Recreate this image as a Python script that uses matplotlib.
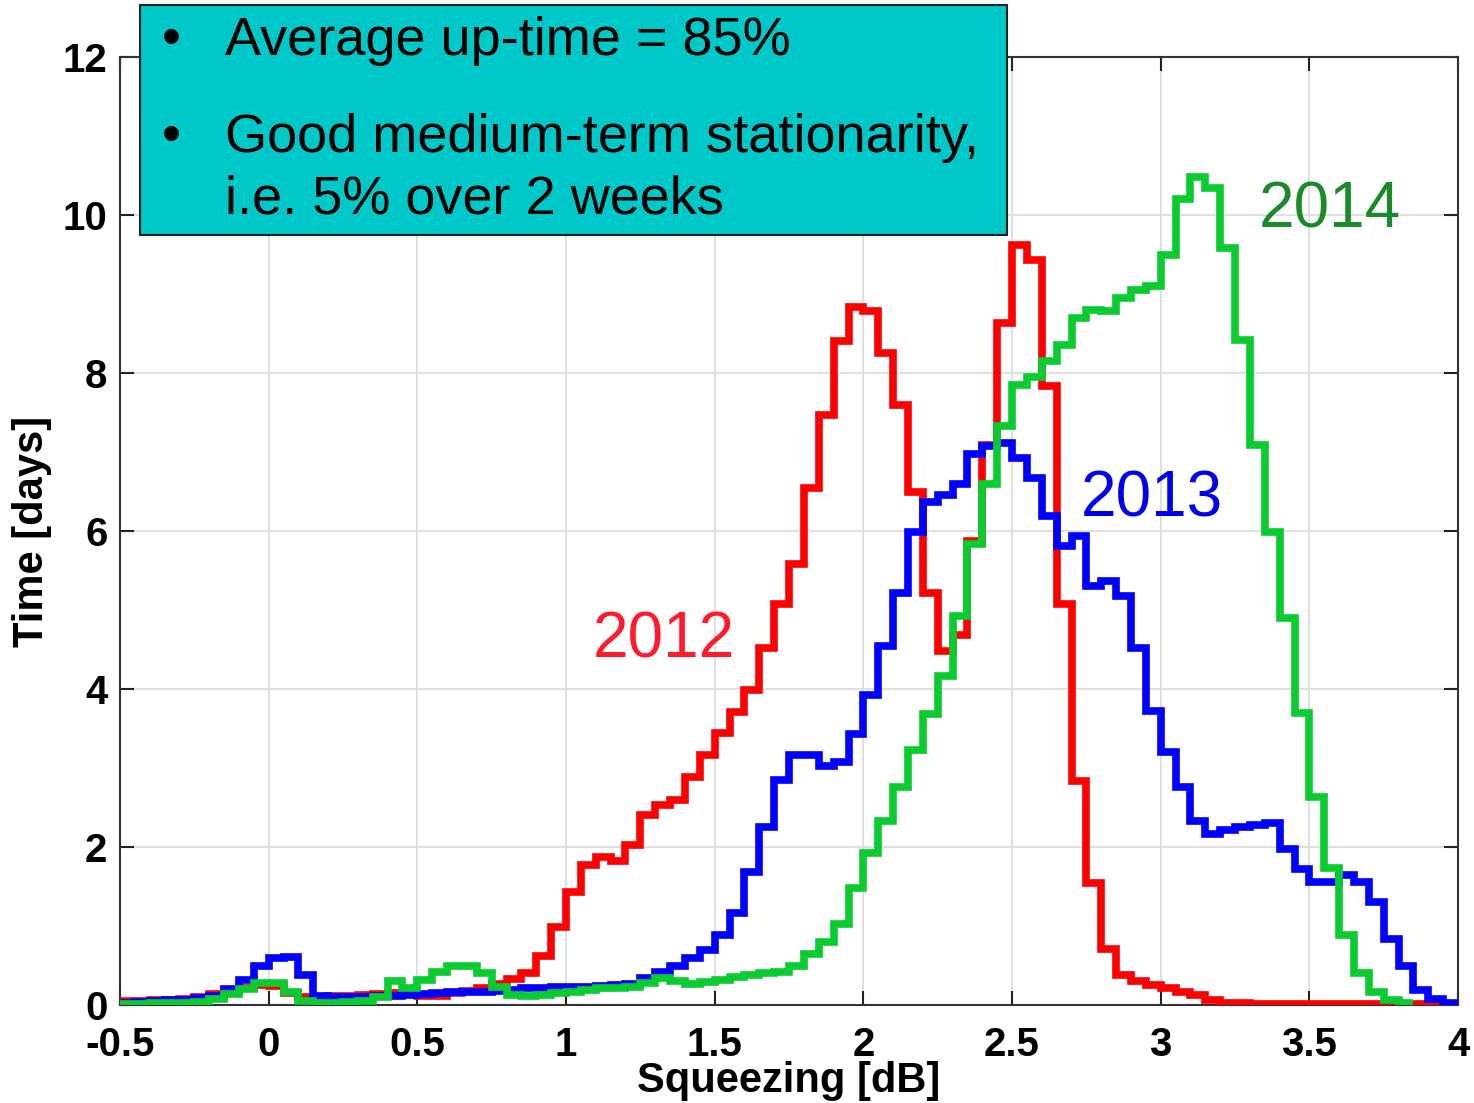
import numpy as np
import matplotlib
matplotlib.use("Agg")
from matplotlib import pyplot as plt
from matplotlib.patches import Rectangle

plt.rcParams['font.family'] = ['Liberation Sans', 'DejaVu Sans']

# Histogram data: 0.05 dB bins starting at -0.5 dB, time in days
bin_start = -0.5
bin_width = 0.05

days_2012 = [0.05, 0.05, 0.06, 0.07, 0.08, 0.10, 0.14, 0.18, 0.22, 0.25,
             0.24, 0.15, 0.10, 0.10, 0.11, 0.12, 0.13, 0.14, 0.15, 0.15,
             0.12, 0.12, 0.15, 0.18, 0.22, 0.27, 0.33, 0.40, 0.62, 0.99,
             1.43, 1.77, 1.87, 1.82, 2.02, 2.40, 2.53, 2.60, 2.89, 3.16,
             3.44, 3.71, 3.99, 4.52, 5.08, 5.58, 6.54, 7.47, 8.41, 8.84,
             8.78, 8.26, 7.59, 6.49, 5.21, 4.48, 4.68, 5.88, 7.09, 8.63,
             9.62, 9.43, 7.84, 5.08, 2.84, 1.54, 0.71, 0.38, 0.30, 0.25,
             0.21, 0.17, 0.13, 0.07, 0.03, 0.02, 0.01, 0.01, 0.01, 0.01,
             0.01, 0.01, 0.01, 0.01, 0.01, 0.01, 0.01, 0.01, 0.01, 0.01]

days_2013 = [0.03, 0.04, 0.05, 0.06, 0.07, 0.09, 0.12, 0.20, 0.32, 0.50,
             0.60, 0.61, 0.38, 0.12, 0.10, 0.10, 0.10, 0.11, 0.12, 0.13,
             0.14, 0.15, 0.16, 0.17, 0.17, 0.18, 0.19, 0.21, 0.22, 0.23,
             0.23, 0.23, 0.24, 0.25, 0.27, 0.34, 0.42, 0.50, 0.60, 0.70,
             0.89, 1.16, 1.69, 2.26, 2.85, 3.17, 3.17, 3.02, 3.08, 3.43,
             3.93, 4.54, 5.21, 5.99, 6.37, 6.46, 6.60, 6.97, 7.08, 7.11,
             6.92, 6.67, 6.19, 5.81, 5.94, 5.30, 5.37, 5.18, 4.52, 3.72,
             3.20, 2.76, 2.33, 2.17, 2.22, 2.25, 2.28, 2.30, 1.98, 1.72,
             1.56, 1.56, 1.65, 1.56, 1.31, 0.84, 0.49, 0.19, 0.08, 0.02]

days_2014 = [0.01, 0.01, 0.02, 0.02, 0.03, 0.04, 0.08, 0.14, 0.20, 0.28,
             0.28, 0.17, 0.05, 0.03, 0.03, 0.04, 0.05, 0.10, 0.30, 0.22,
             0.32, 0.42, 0.50, 0.50, 0.40, 0.23, 0.13, 0.12, 0.13, 0.15,
             0.17, 0.19, 0.21, 0.22, 0.23, 0.28, 0.34, 0.30, 0.27, 0.29,
             0.32, 0.36, 0.38, 0.40, 0.42, 0.50, 0.65, 0.80, 1.02, 1.48,
             1.92, 2.33, 2.76, 3.23, 3.69, 4.16, 4.92, 5.84, 6.60, 7.33,
             7.85, 7.95, 8.15, 8.35, 8.70, 8.80, 8.78, 8.95, 9.05, 9.10,
             9.50, 10.20, 10.48, 10.34, 9.59, 8.42, 7.09, 5.99, 4.90, 3.70,
             2.64, 1.73, 0.89, 0.40, 0.17, 0.06, 0.03]

years = ['2012', '2013', '2014']
line_colors = ['#ff0000', '#0000ff', '#0acc30']
label_colors = ['#ff1a2e', '#0000ee', '#1a8a2a']
label_pos = [(1.33, 4.62), (2.97, 6.40), (3.57, 10.06)]

x_ticks = [-0.5, 0, 0.5, 1, 1.5, 2, 2.5, 3, 3.5, 4]
x_tick_labels = ['-0.5', '0', '0.5', '1', '1.5', '2', '2.5', '3', '3.5', '4']
y_ticks = [0, 2, 4, 6, 8, 10, 12]

notes = ['Average up-time = 85%', 'Good medium-term stationarity,', 'i.e. 5% over 2 weeks']

fig = plt.figure(figsize=(14.74, 11.03), dpi=100)
ax = fig.add_axes([0.0814, 0.0888, 0.9078, 0.8594])

for vals, c in zip([days_2012, days_2013, days_2014], line_colors):
    edges = bin_start + bin_width * np.arange(len(vals) + 1)
    ax.stairs(vals, edges, color=c, linewidth=5.5, baseline=None, zorder=3)

for yr, c, (lx, ly) in zip(years, label_colors, label_pos):
    ax.text(lx, ly, yr, color=c, fontsize=46, ha='center', va='center', zorder=4)

ax.set_xlim(-0.5, 4)
ax.set_ylim(0, 12)
ax.set_xticks(x_ticks)
ax.set_xticklabels(x_tick_labels)
ax.set_yticks(y_ticks)
ax.grid(True, color='#dddddd', linewidth=1.3)
ax.set_axisbelow(True)
ax.tick_params(direction='in', length=10, width=1.5, top=True, right=True,
               labelsize=29, colors='#222222')
ax.tick_params(axis='x', pad=15)
ax.tick_params(axis='y', pad=9)
for lab in ax.get_xticklabels() + ax.get_yticklabels():
    lab.set_fontweight('bold')
    lab.set_color('black')
for sp in ax.spines.values():
    sp.set_linewidth(1.5)
    sp.set_color('#333333')

ax.set_xlabel('Squeezing [dB]', fontsize=30, fontweight='bold', labelpad=-2)
ax.set_ylabel('Time [days]', fontsize=30, fontweight='bold', labelpad=8)

# cyan note box on top of the plot
H = 1103.0
W = 1474.0
fig.patches.append(Rectangle((140 / W, 1 - 235 / H), 867 / W, 230 / H,
                             transform=fig.transFigure, facecolor='#00c8c8',
                             edgecolor='#222222', linewidth=1.5, zorder=10))
fig.text(162 / W, 1 - 55 / H, '\u2022', fontsize=39, va='baseline', zorder=11)
fig.text(225 / W, 1 - 55 / H, notes[0], fontsize=39, va='baseline', zorder=11)
fig.text(162 / W, 1 - 152 / H, '\u2022', fontsize=39, va='baseline', zorder=11)
fig.text(225 / W, 1 - 152 / H, notes[1], fontsize=39, va='baseline', zorder=11)
fig.text(225 / W, 1 - 213 / H, notes[2], fontsize=39, va='baseline', zorder=11)

fig.savefig('out.png', dpi=100)
